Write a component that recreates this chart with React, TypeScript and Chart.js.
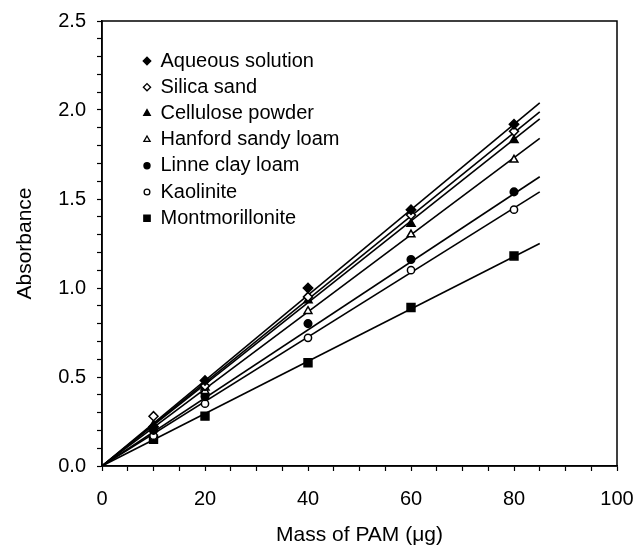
import React, { useEffect, useRef } from "react";
import { Chart, registerables } from "chart.js";
import { drawPoint } from "chart.js/helpers";

Chart.register(...registerables);

const massX = [10, 20, 40, 60, 80];
const seriesNames = [
  "Aqueous solution",
  "Silica sand",
  "Cellulose powder",
  "Hanford sandy loam",
  "Linne clay loam",
  "Kaolinite",
  "Montmorillonite",
];
const aqueous = [0.22, 0.48, 1.0, 1.44, 1.92];
const silica = [0.28, 0.45, 0.95, 1.41, 1.88];
const cellulose = [0.23, 0.44, 0.93, 1.36, 1.83];
const hanford = [0.21, 0.42, 0.87, 1.3, 1.72];
const linne = [0.2, 0.39, 0.8, 1.16, 1.54];
const kaolinite = [0.17, 0.35, 0.72, 1.1, 1.44];
const montmorillonite = [0.15, 0.28, 0.58, 0.89, 1.18];
const fitX = [0, 85];
const fitEnd = [2.04, 1.99, 1.95, 1.84, 1.625, 1.54, 1.25];

const seriesValues = [aqueous, silica, cellulose, hanford, linne, kaolinite, montmorillonite];
const pointStyles = ["rectRot", "rectRot", "triangle", "triangle", "circle", "circle", "rect"];
const filled = [true, false, true, false, true, false, true];
const radii = [4.7, 4.5, 4.7, 4.5, 3.8, 3.6, 5.6];

const FONT = "'Liberation Sans', Arial, sans-serif";

export default function App() {
  const ref = useRef<HTMLCanvasElement | null>(null);
  useEffect(() => {
    document.body.style.margin = "0";
    const canvas = ref.current;
    if (!canvas) return;

    const pointSets = seriesNames.map((name, i) => ({
      label: name,
      data: massX.map((x, j) => ({ x, y: seriesValues[i][j] })),
      showLine: false,
      pointStyle: pointStyles[i],
      pointRadius: radii[i],
      pointBackgroundColor: filled[i] ? "#000" : "#fff",
      pointBorderColor: "#000",
      pointBorderWidth: 1.5,
      order: 1,
    }));
    const lineSets = seriesNames.map((name, i) => ({
      label: name + " fit",
      data: [
        { x: fitX[0], y: 0 },
        { x: fitX[1], y: fitEnd[i] },
      ],
      showLine: true,
      borderColor: "#000",
      borderWidth: 1.6,
      pointRadius: 0,
      order: 2,
    }));

    const legendPlugin = {
      id: "customLegend",
      afterDraw(chart: any) {
        const ctx = chart.ctx;
        ctx.save();
        const x0 = 147;
        const y0 = 61;
        const dy = 26.2;
        ctx.font = `20px ${FONT}`;
        ctx.textBaseline = "middle";
        seriesNames.forEach((name, i) => {
          const y = y0 + i * dy;
          ctx.fillStyle = filled[i] ? "#000" : "#fff";
          ctx.strokeStyle = "#000";
          ctx.lineWidth = 1.3;
          drawPoint(ctx, { pointStyle: pointStyles[i], radius: radii[i] * 0.8, borderWidth: 1.3, rotation: 0 } as any, x0, y);
          ctx.fillStyle = "#000";
          ctx.fillText(name, x0 + 13.5, y);
        });
        const a = chart.chartArea;
        ctx.strokeStyle = "#000";
        ctx.lineWidth = 1.5;
        ctx.strokeRect(a.left, a.top, a.right - a.left, a.bottom - a.top);
        ctx.restore();
      },
    };

    const chart = new Chart(canvas, {
      type: "scatter",
      data: { datasets: [...pointSets, ...lineSets] as any },
      options: {
        animation: false,
        responsive: false,
        layout: { padding: { left: 0, top: 21, right: 18, bottom: 0 } },
        plugins: { legend: { display: false }, tooltip: { enabled: false } },
        scales: {
          x: {
            type: "linear",
            min: 0,
            max: 100,
            afterFit: (s: any) => {
              s.height = 80;
              s.paddingLeft = 0;
              s.paddingRight = 0;
            },
            ticks: {
              stepSize: 5,
              autoSkip: false,
              maxRotation: 0,
              padding: 16,
              color: "#000",
              font: { family: FONT, size: 20 },
              callback: (v: any) => (Number(v) % 20 === 0 ? String(v) : ""),
            },
            grid: { drawOnChartArea: false, drawTicks: true, tickLength: 5, color: "#000", tickWidth: 1.2 },
            border: { display: true, color: "#000", width: 1.5 },
            title: {
              display: true,
              text: "Mass of PAM (μg)",
              color: "#000",
              font: { family: FONT, size: 21, lineHeight: 1 },
              padding: { top: 0, bottom: 0 },
            },
          },
          y: {
            type: "linear",
            min: 0,
            max: 2.5,
            afterFit: (s: any) => {
              s.width = 102;
              s.paddingTop = 0;
              s.paddingBottom = 0;
            },
            ticks: {
              stepSize: 0.1,
              autoSkip: false,
              padding: 11,
              color: "#000",
              font: { family: FONT, size: 20 },
              callback: (v: any) => {
                const n = Math.round(Number(v) * 10);
                return n % 5 === 0 ? (n / 10).toFixed(1) : "";
              },
            },
            grid: { drawOnChartArea: false, drawTicks: true, tickLength: 5, color: "#000", tickWidth: 1.2 },
            border: { display: true, color: "#000", width: 1.5 },
            title: {
              display: true,
              text: "Absorbance",
              color: "#000",
              font: { family: FONT, size: 21, lineHeight: 1 },
              padding: { top: 14.5, bottom: 0 },
            },
          },
        },
      },
      plugins: [legendPlugin],
    });
    return () => chart.destroy();
  }, []);
  return <canvas ref={ref} width={635} height={546} style={{ display: "block" }} />;
}
